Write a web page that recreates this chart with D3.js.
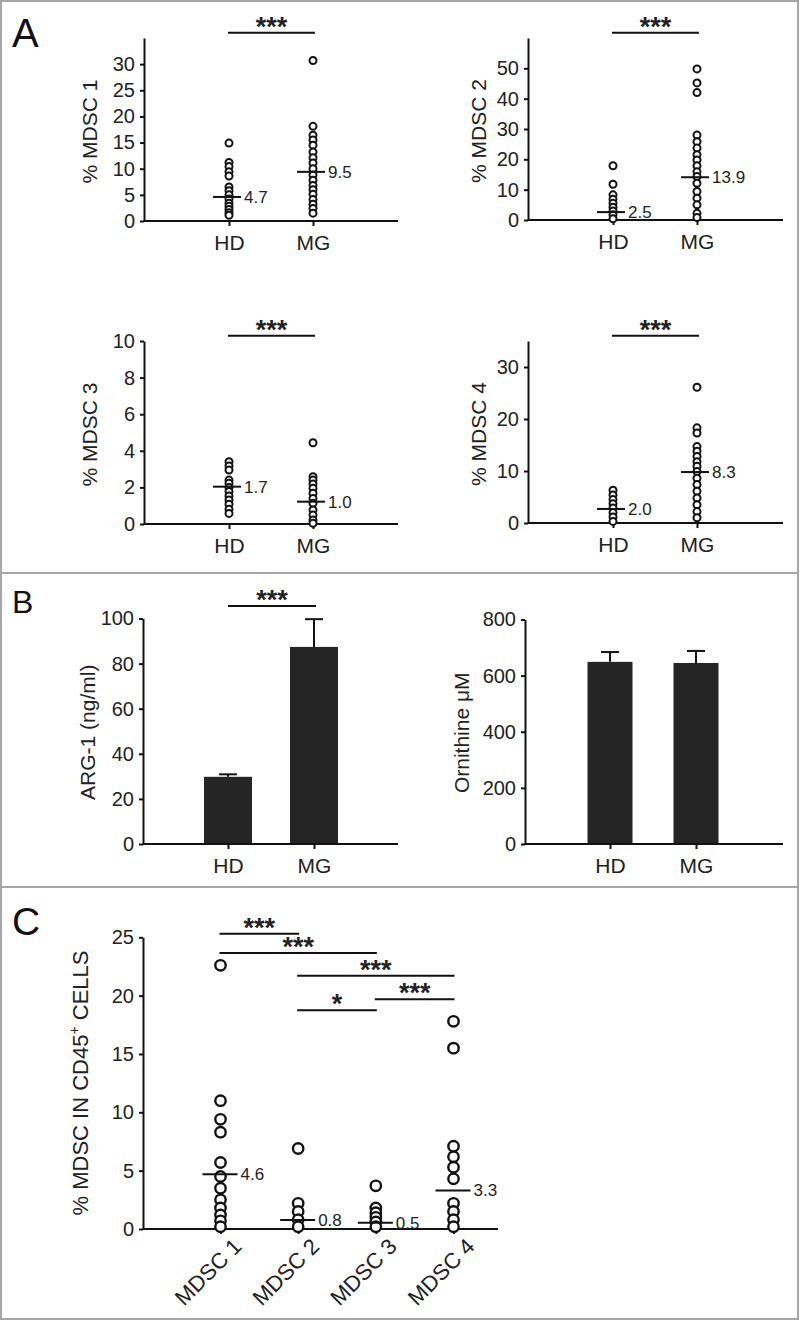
<!DOCTYPE html>
<meta charset="utf-8">
<style>
body { margin: 0; background: #fff; }
svg { display: block; font-family: "Liberation Sans", Arial, sans-serif; }
.axis path, .axis line { stroke: #111; stroke-width: 2px; }
.axis text { fill: #222; font-size: 20px; font-family: "Liberation Sans", Arial, sans-serif; }
.xcat text { font-size: 21px; }
.dot { fill: #fff; stroke: #111; }
.med { stroke: #111; stroke-width: 2px; }
.medlab { fill: #222; font-size: 17px; }
.sig { stroke: #111; stroke-width: 2px; }
.star { fill: #222; font-size: 27px; font-weight: bold; text-anchor: middle; }
.ylab { fill: #222; font-size: 21px; text-anchor: middle; }
.plab { fill: #111; }
.frame { fill: none; stroke: #a6a6a6; stroke-width: 2px; }
</style>
<svg width="800" height="1321"></svg>
<script src="https://d3js.org/d3.v7.min.js"></script>
<script>

// ---- data ----
const groups = ["HD", "MG"];

// panel A: % of each MDSC subset, one dot per subject
const mdsc1HD = [14.9, 11.2, 10.4, 9.4, 8.6, 6.5, 5.8, 5.0, 4.2, 3.4, 2.8, 2.2, 1.6, 1.1];
const mdsc1MG = [30.7, 18.1, 16.4, 15.5, 14.5, 13.2, 12.1, 11.1, 10.0, 8.8, 7.8, 6.8, 6.0, 5.1, 4.1, 3.2, 2.4, 1.5];
const mdsc2HD = [17.9, 11.8, 8.3, 6.8, 5.5, 4.2, 3.0, 1.7, 0.4];
const mdsc2MG = [49.8, 45.2, 42.0, 28.0, 25.8, 23.7, 21.5, 19.8, 17.9, 15.9, 14.3, 12.1, 9.4, 7.2, 5.0, 2.2, 0.8];
const mdsc3HD = [3.4, 3.17, 2.95, 2.4, 2.22, 2.0, 1.77, 1.53, 1.31, 1.08, 0.8, 0.58];
const mdsc3MG = [4.44, 2.58, 2.4, 2.19, 1.95, 1.68, 1.4, 1.13, 0.77, 0.49, 0.22, 0.04];
const mdsc4HD = [6.3, 5.4, 4.5, 3.7, 2.9, 2.0, 1.15, 0.3];
const mdsc4MG = [26.1, 18.3, 17.3, 14.7, 13.8, 12.8, 11.8, 10.9, 9.9, 8.6, 7.4, 6.1, 4.8, 3.5, 2.2, 1.0];

const aMedians = [[4.6, 9.4], [2.6, 14.1], [2.04, 1.22], [2.7, 9.8]];
const aMedianLabels = [["4.7", "9.5"], ["2.5", "13.9"], ["1.7", "1.0"], ["2.0", "8.3"]];
const aTitles = ["% MDSC 1", "% MDSC 2", "% MDSC 3", "% MDSC 4"];
const aMax = [35, 60, 10, 35];
const aTicks = [[0, 5, 10, 15, 20, 25, 30], [0, 10, 20, 30, 40, 50], [0, 2, 4, 6, 8, 10], [0, 10, 20, 30]];

// panel B: mean + SEM
const arg1Mean = [29.8, 87.4];
const arg1Err = [30.9, 99.7];
const ornMean = [649, 645];
const ornErr = [684, 688];
const arg1Ticks = [0, 20, 40, 60, 80, 100];
const ornTicks = [0, 200, 400, 600, 800];

// panel C
const subsets = ["MDSC 1", "MDSC 2", "MDSC 3", "MDSC 4"];
const cValues = [
  [22.6, 11.0, 9.4, 8.3, 5.7, 4.5, 3.5, 2.5, 1.8, 1.2, 0.7, 0.2],
  [6.9, 2.2, 1.5, 0.8, 0.2],
  [3.7, 1.8, 1.4, 1.0, 0.6, 0.2],
  [17.8, 15.5, 7.1, 6.2, 5.3, 4.3, 2.2, 1.5, 0.8, 0.2]
];
const cMedians = [4.7, 0.77, 0.54, 3.3];
const cMedianLabels = ["4.6", "0.8", "0.5", "3.3"];
const cTicks = [0, 5, 10, 15, 20, 25];
const cPairs = [["MDSC 1", "MDSC 2"], ["MDSC 1", "MDSC 3"], ["MDSC 2", "MDSC 4"], ["MDSC 3", "MDSC 4"], ["MDSC 2", "MDSC 3"]];
const cPairLevels = [25.3, 23.65, 21.7, 19.7, 18.75];
const cPairLabels = ["***", "***", "***", "***", "*"];

// ---- drawing ----
const svg = d3.select("svg");

// panel frames
svg.append("rect").attr("class", "frame").attr("x", 1).attr("y", 1).attr("width", 797).attr("height", 572);
svg.append("rect").attr("class", "frame").attr("x", 1).attr("y", 573).attr("width", 797).attr("height", 314);
svg.append("rect").attr("class", "frame").attr("x", 1).attr("y", 887).attr("width", 797).attr("height", 432);

svg.append("text").attr("class", "plab").attr("x", 12).attr("y", 47).attr("font-size", 40).text("A");
svg.append("text").attr("class", "plab").attr("x", 12).attr("y", 613).attr("font-size", 32).text("B");
svg.append("text").attr("class", "plab").attr("x", 12).attr("y", 935).attr("font-size", 39).text("C");

function yAxis(g, y, left, ticks) {
  g.append("g").attr("class", "axis")
    .attr("transform", `translate(${left},0)`)
    .call(d3.axisLeft(y).tickValues(ticks).tickSize(4).tickSizeOuter(0).tickPadding(5));
}

function xAxis(g, x, y0, left, right, rotate) {
  g.append("line").attr("x1", left).attr("x2", right).attr("y1", y0).attr("y2", y0)
    .attr("stroke", "#111").attr("stroke-width", 2);
  const ax = g.append("g").attr("class", "axis xcat")
    .attr("transform", `translate(0,${y0})`)
    .call(d3.axisBottom(x).tickSize(5).tickPadding(9));
  ax.select(".domain").remove();
  if (rotate) {
    ax.selectAll("text")
      .attr("text-anchor", "end")
      .attr("dy", null)
      .style("font-size", "22px")
      .attr("transform", "translate(12,9) rotate(-45)");
  }
}

function yLabel(g, x, y, txt) {
  g.append("text").attr("class", "ylab")
    .attr("transform", `translate(${x},${y}) rotate(-90)`)
    .text(txt);
}

function sigBar(g, x1, x2, yy, label) {
  g.append("line").attr("class", "sig").attr("x1", x1).attr("x2", x2).attr("y1", yy).attr("y2", yy);
  g.append("text").attr("class", "star").attr("x", (x1 + x2) / 2).attr("y", yy + 3).text(label);
}

// panel A layout: [left, axisY, topY, right, label offset]
const aLayout = [[144, 221, 38, 398, 47], [528, 220, 38, 783, 42], [144, 524, 341, 398, 47], [528, 523, 341, 783, 42]];
const aData = [[mdsc1HD, mdsc1MG], [mdsc2HD, mdsc2MG], [mdsc3HD, mdsc3MG], [mdsc4HD, mdsc4MG]];
const aSigY = [32.7, 32.7, 335.7, 335.7];

aData.forEach((pair, i) => {
  const [left, y0, top, right, off] = aLayout[i];
  const g = svg.append("g");
  const y = d3.scaleLinear().domain([0, aMax[i]]).range([y0, top]);
  const x = d3.scalePoint().domain(groups).range([left + 85, left + 169]);
  yAxis(g, y, left, aTicks[i]);
  xAxis(g, x, y0, left, right);
  yLabel(g, left - off, (y0 + top) / 2 + 2, aTitles[i]);

  groups.forEach((grp, j) => {
    g.selectAll(null).data(pair[j]).enter().append("circle")
      .attr("class", "dot").attr("stroke-width", 2)
      .attr("cx", x(grp)).attr("cy", d => y(d)).attr("r", 3.5);
    const my = y(aMedians[i][j]);
    g.append("line").attr("class", "med")
      .attr("x1", x(grp) - 16).attr("x2", x(grp) + 12).attr("y1", my).attr("y2", my);
    g.append("text").attr("class", "medlab")
      .attr("x", x(grp) + 15).attr("y", my + 6).text(aMedianLabels[i][j]);
  });
  sigBar(g, x("HD") - 1, x("MG") + 2, aSigY[i], "***");
});

// panel B
function barPanel(left, right, top, max, ticks, means, errs, label, bw, off) {
  const y0 = 844;
  const g = svg.append("g");
  const y = d3.scaleLinear().domain([0, max]).range([y0, top]);
  const x = d3.scalePoint().domain(groups).range([left + 85, left + 171]);
  g.selectAll(null).data(groups).enter().append("line")
    .attr("stroke", "#111").attr("stroke-width", 2)
    .attr("x1", d => x(d)).attr("x2", d => x(d))
    .attr("y1", (d, i) => y(means[i])).attr("y2", (d, i) => y(errs[i]));
  g.selectAll(null).data(groups).enter().append("line")
    .attr("stroke", "#111").attr("stroke-width", 2)
    .attr("x1", d => x(d) - 9).attr("x2", d => x(d) + 9)
    .attr("y1", (d, i) => y(errs[i])).attr("y2", (d, i) => y(errs[i]));
  g.selectAll(null).data(groups).enter().append("rect")
    .attr("fill", "#252525")
    .attr("x", d => x(d) - bw / 2).attr("width", bw)
    .attr("y", (d, i) => y(means[i])).attr("height", (d, i) => y0 - y(means[i]));
  yAxis(g, y, left, ticks);
  xAxis(g, x, y0, left, right);
  yLabel(g, left - off, (y0 + top) / 2 + 1, label);
  return x;
}

const xb = barPanel(143, 398, 618.5, 100, arg1Ticks, arg1Mean, arg1Err, "ARG-1 (ng/ml)", 48, 48);
sigBar(svg, xb("HD"), xb("MG") + 2, 606, "***");
barPanel(525, 783, 619.5, 800, ornTicks, ornMean, ornErr, "Ornithine μM", 45, 56);

// panel C
(function () {
  const left = 143, y0 = 1229, top = 937.3, right = 498;
  const g = svg.append("g");
  const y = d3.scaleLinear().domain([0, 25]).range([y0, top]);
  const x = d3.scalePoint().domain(subsets).range([220.5, 453.5]);
  yAxis(g, y, left, cTicks);
  xAxis(g, x, y0, left, right, true);

  const lab = g.append("text").attr("class", "ylab").style("font-size", "22px")
    .attr("transform", `translate(88,1083) rotate(-90)`);
  lab.append("tspan").text("% MDSC IN CD45");
  lab.append("tspan").attr("dy", -9).style("font-size", "14px").text("+");
  lab.append("tspan").attr("dy", 9).text(" CELLS");

  subsets.forEach((s, j) => {
    g.selectAll(null).data(cValues[j]).enter().append("circle")
      .attr("class", "dot").attr("stroke-width", 2.4)
      .attr("cx", x(s)).attr("cy", d => y(d)).attr("r", 5.2);
    const my = y(cMedians[j]);
    g.append("line").attr("class", "med").attr("stroke-width", 2.4)
      .attr("x1", x(s) - 18).attr("x2", x(s) + 17).attr("y1", my).attr("y2", my);
    g.append("text").attr("class", "medlab")
      .attr("x", x(s) + 20).attr("y", my + 6).text(cMedianLabels[j]);
  });

  cPairs.forEach((p, k) => {
    sigBar(g, x(p[0]) - 1, x(p[1]) + 1, y(cPairLevels[k]), cPairLabels[k]);
  });
})();

</script>
